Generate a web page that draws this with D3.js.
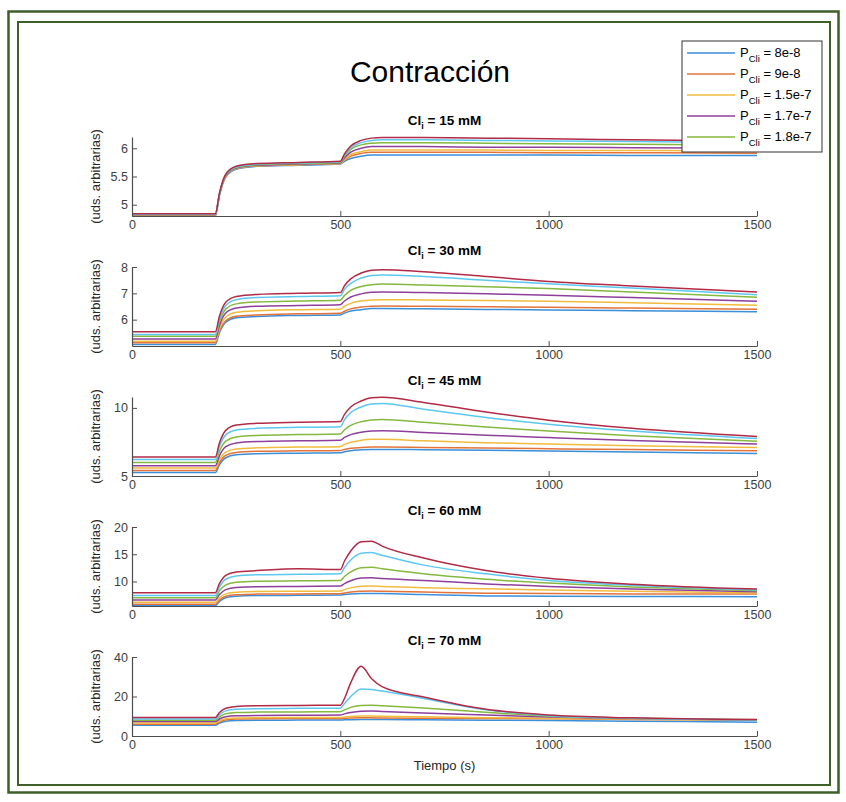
<!DOCTYPE html>
<html>
<head>
<meta charset="utf-8">
<script src="https://cdn.jsdelivr.net/npm/d3@7"></script>
<style>
body { margin: 0; background: #fff; }
text { font-family: "Liberation Sans", Arial, sans-serif; }
</style>
</head>
<body>
<script>
var tiempo = [0, 200, 210, 225, 250, 300, 400, 500, 510, 525, 550, 575, 600, 700, 850, 1000, 1200, 1500];

var concentraciones = ["15", "30", "45", "60", "70"];
var pcli = ["8e-8", "9e-8", "1.5e-7", "1.7e-7", "1.8e-7"];
var yDominios = [[4.8, 6.2], [5, 8], [5, 10.8], [5.5, 20], [0, 40]];
var yTicks = [[5, 5.5, 6], [6, 7, 8], [5, 10], [10, 15, 20], [0, 20, 40]];
var xTicks = [0, 500, 1000, 1500];

// orden: azul, naranja, amarillo, morado, verde, cian, granate
var cl15 = [
  [4.80, 4.80, 5.17, 5.49, 5.63, 5.68, 5.70, 5.72, 5.77, 5.82, 5.86, 5.88, 5.88, 5.88, 5.88, 5.88, 5.87, 5.87],
  [4.81, 4.81, 5.18, 5.50, 5.64, 5.69, 5.71, 5.73, 5.79, 5.86, 5.91, 5.93, 5.93, 5.93, 5.93, 5.92, 5.92, 5.91],
  [4.815, 4.815, 5.18, 5.50, 5.64, 5.69, 5.71, 5.73, 5.80, 5.89, 5.94, 5.97, 5.97, 5.97, 5.97, 5.96, 5.96, 5.95],
  [4.82, 4.82, 5.19, 5.51, 5.65, 5.70, 5.72, 5.74, 5.83, 5.93, 6.00, 6.03, 6.03, 6.03, 6.02, 6.02, 6.01, 6.00],
  [4.825, 4.825, 5.19, 5.52, 5.66, 5.71, 5.73, 5.75, 5.86, 5.98, 6.06, 6.09, 6.10, 6.10, 6.09, 6.08, 6.07, 6.06],
  [4.83, 4.83, 5.20, 5.53, 5.67, 5.72, 5.74, 5.76, 5.88, 6.01, 6.10, 6.14, 6.15, 6.15, 6.14, 6.13, 6.12, 6.10],
  [4.84, 4.84, 5.21, 5.54, 5.68, 5.73, 5.75, 5.77, 5.90, 6.04, 6.14, 6.18, 6.19, 6.19, 6.18, 6.17, 6.15, 6.13]
];
var cl30 = [
  [5.06, 5.06, 5.51, 5.90, 6.07, 6.12, 6.16, 6.18, 6.25, 6.33, 6.38, 6.42, 6.42, 6.41, 6.39, 6.37, 6.34, 6.30],
  [5.12, 5.12, 5.57, 5.96, 6.13, 6.18, 6.22, 6.24, 6.32, 6.41, 6.48, 6.51, 6.52, 6.51, 6.49, 6.47, 6.44, 6.40],
  [5.18, 5.18, 5.67, 6.10, 6.28, 6.34, 6.38, 6.40, 6.51, 6.62, 6.71, 6.75, 6.76, 6.75, 6.73, 6.70, 6.64, 6.55],
  [5.27, 5.27, 5.79, 6.25, 6.44, 6.51, 6.54, 6.57, 6.71, 6.86, 6.98, 7.04, 7.05, 7.03, 6.98, 6.93, 6.84, 6.70],
  [5.37, 5.37, 5.92, 6.40, 6.60, 6.67, 6.71, 6.74, 6.92, 7.11, 7.26, 7.33, 7.35, 7.32, 7.25, 7.18, 7.05, 6.85],
  [5.44, 5.44, 6.03, 6.54, 6.76, 6.84, 6.88, 6.91, 7.15, 7.38, 7.58, 7.68, 7.70, 7.64, 7.50, 7.36, 7.20, 6.95],
  [5.54, 5.54, 6.14, 6.66, 6.88, 6.96, 7.00, 7.03, 7.29, 7.55, 7.77, 7.88, 7.90, 7.82, 7.64, 7.45, 7.28, 7.05]
];
var cl45 = [
  [5.25, 5.25, 5.83, 6.34, 6.56, 6.63, 6.67, 6.70, 6.78, 6.86, 6.92, 6.95, 6.95, 6.93, 6.89, 6.84, 6.77, 6.65],
  [5.40, 5.40, 5.99, 6.51, 6.73, 6.81, 6.85, 6.88, 6.95, 7.03, 7.09, 7.12, 7.12, 7.10, 7.06, 7.00, 6.94, 6.85],
  [5.58, 5.58, 6.21, 6.76, 6.99, 7.07, 7.12, 7.15, 7.32, 7.48, 7.62, 7.69, 7.70, 7.58, 7.45, 7.35, 7.22, 7.10],
  [5.75, 5.75, 6.50, 7.15, 7.43, 7.53, 7.58, 7.62, 7.83, 8.04, 8.22, 8.30, 8.32, 8.20, 8.00, 7.82, 7.60, 7.35],
  [6.00, 6.00, 6.83, 7.56, 7.87, 7.98, 8.04, 8.08, 8.40, 8.72, 8.99, 9.12, 9.15, 8.95, 8.60, 8.30, 7.95, 7.55],
  [6.22, 6.22, 7.18, 8.02, 8.38, 8.50, 8.57, 8.62, 9.13, 9.65, 10.07, 10.28, 10.33, 9.90, 9.30, 8.80, 8.30, 7.75],
  [6.40, 6.40, 7.44, 8.35, 8.74, 8.87, 8.95, 9.00, 9.53, 10.07, 10.51, 10.74, 10.78, 10.40, 9.70, 9.10, 8.50, 7.90]
];
var cl60 = [
  [5.58, 5.58, 6.35, 7.02, 7.31, 7.41, 7.46, 7.50, 7.59, 7.70, 7.79, 7.80, 7.78, 7.60, 7.35, 7.30, 7.25, 7.20],
  [5.82, 5.82, 6.60, 7.28, 7.57, 7.68, 7.72, 7.76, 7.90, 8.07, 8.22, 8.24, 8.20, 8.05, 7.85, 7.80, 7.72, 7.70],
  [6.18, 6.18, 7.00, 7.73, 8.03, 8.15, 8.20, 8.24, 8.51, 8.83, 9.12, 9.15, 9.10, 8.85, 8.65, 8.45, 8.20, 7.90],
  [6.60, 6.60, 7.62, 8.51, 8.90, 9.05, 9.10, 9.15, 9.61, 10.14, 10.62, 10.67, 10.55, 10.20, 9.55, 9.10, 8.60, 8.10],
  [7.03, 7.03, 8.29, 9.39, 9.87, 10.05, 10.12, 10.18, 10.91, 11.75, 12.53, 12.60, 12.35, 11.40, 10.40, 9.70, 9.00, 8.30],
  [7.45, 7.45, 9.03, 10.41, 11.01, 11.24, 11.32, 11.40, 12.57, 13.94, 15.18, 15.30, 14.80, 13.00, 11.40, 10.20, 9.30, 8.45],
  [7.94, 7.94, 9.64, 11.12, 11.76, 12.00, 12.35, 12.18, 13.76, 15.60, 17.30, 17.40, 16.50, 14.30, 12.00, 10.60, 9.50, 8.60]
];
var cl70 = [
  [5.5, 5.5, 6.54, 7.45, 7.84, 7.99, 8.05, 8.1, 8.2, 8.25, 8.3, 8.3, 8.3, 8.2, 8.0, 7.8, 7.5, 7.0],
  [6.0, 6.0, 7.16, 8.18, 8.61, 8.76, 8.84, 8.9, 9.0, 9.1, 9.2, 9.2, 9.1, 9.0, 8.9, 8.7, 8.4, 8.1],
  [6.6, 6.6, 7.72, 8.70, 9.12, 9.26, 9.34, 9.4, 9.6, 9.9, 10.1, 10.1, 10.0, 9.7, 9.3, 9.0, 8.5, 8.0],
  [7.3, 7.3, 8.62, 9.78, 10.27, 10.44, 10.53, 10.6, 11.2, 11.9, 12.5, 12.6, 12.4, 11.6, 10.6, 9.6, 8.8, 8.1],
  [8.0, 8.0, 9.72, 11.23, 11.87, 12.09, 12.21, 12.3, 13.2, 14.5, 15.5, 15.6, 15.3, 14.2, 12.0, 10.0, 9.0, 8.2],
  [8.6, 8.6, 10.8, 12.73, 13.55, 13.83, 13.99, 14.1, 16.5, 20.0, 23.8, 23.5, 22.8, 19.0, 13.3, 10.3, 9.0, 8.2],
  [9.4, 9.4, 11.88, 14.05, 14.98, 15.29, 15.48, 15.6, 19.0, 27.0, 35.3, 29.0, 25.0, 19.7, 13.5, 10.6, 9.2, 8.3]
];
var paneles = [cl15, cl30, cl45, cl60, cl70];

var colores = ["#3a8fd9", "#e3733a", "#f1bb3e", "#8e3f9c", "#85b83f", "#5cc8f2", "#b22a45"];

var W = 846, H = 802,
    left = 132, plotW = 625, plotH = 79,
    tops = [137, 267, 397, 527, 657],
    ejeColor = "#4d4d4d";

var svg = d3.select("body").append("svg")
    .attr("width", W)
    .attr("height", H);

// marcos verdes
svg.append("rect").attr("x", 8.5).attr("y", 11.5).attr("width", 830).attr("height", 781)
    .attr("fill", "#fff").attr("stroke", "#3e5f28").attr("stroke-width", 2.5);
svg.append("rect").attr("x", 18).attr("y", 22).attr("width", 812).attr("height", 763)
    .attr("fill", "none").attr("stroke", "#3e5f28").attr("stroke-width", 2);

svg.append("text")
    .attr("x", 430).attr("y", 82)
    .attr("text-anchor", "middle")
    .style("font-size", "30px")
    .style("fill", "#000")
    .text("Contracción");

var x = d3.scaleLinear().domain([0, 1500]).range([0, plotW]);

paneles.forEach(function(series, p) {
    var y = d3.scaleLinear().domain(yDominios[p]).range([plotH, 0]);
    var g = svg.append("g")
        .attr("transform", "translate(" + left + "," + tops[p] + ")");

    var line = d3.line()
        .x(function(d, i) { return x(tiempo[i]); })
        .y(function(d) { return y(d); })
        .curve(d3.curveMonotoneX);

    g.selectAll(".serie")
        .data(series)
        .enter().append("path")
        .attr("class", "serie")
        .attr("d", line)
        .attr("fill", "none")
        .attr("stroke", function(d, i) { return colores[i]; })
        .attr("stroke-width", 1.5);

    var xAxis = d3.axisBottom(x).tickValues(xTicks).tickFormat(d3.format("d"))
        .tickSizeInner(-5).tickSizeOuter(0).tickPadding(4);
    var yAxis = d3.axisLeft(y).tickValues(yTicks[p]).tickFormat(function(d) { return String(d); })
        .tickSizeInner(-5).tickSizeOuter(0).tickPadding(4);

    var gx = g.append("g").attr("transform", "translate(0," + plotH + ")").call(xAxis);
    var gy = g.append("g").call(yAxis);
    [gx, gy].forEach(function(a) {
        a.select(".domain").attr("stroke", ejeColor).attr("stroke-width", 1.2);
        a.selectAll(".tick line").attr("stroke", ejeColor);
        a.selectAll(".tick text").style("font-size", "12.5px").style("fill", "#404040")
            .style("font-family", "'Liberation Sans', Arial, sans-serif");
    });

    // título del panel
    var t = g.append("text")
        .attr("x", plotW / 2).attr("y", -12)
        .attr("text-anchor", "middle")
        .style("font-size", "13.5px")
        .style("font-weight", "bold")
        .style("fill", "#000");
    t.append("tspan").text("Cl");
    t.append("tspan").attr("dy", 4).style("font-size", "9px").text("i");
    t.append("tspan").attr("dy", -4).text(" = " + concentraciones[p] + " mM");

    g.append("text")
        .attr("transform", "translate(-32," + (plotH / 2) + ") rotate(-90)")
        .attr("text-anchor", "middle")
        .style("font-size", "13px")
        .style("fill", "#262626")
        .text("(uds. arbitrarias)");
});

svg.append("text")
    .attr("x", left + plotW / 2).attr("y", 770)
    .attr("text-anchor", "middle")
    .style("font-size", "13px")
    .style("fill", "#262626")
    .text("Tiempo (s)");

// leyenda
var leg = svg.append("g").attr("transform", "translate(682,41)");
leg.append("rect").attr("width", 140).attr("height", 111)
    .attr("fill", "#fff").attr("stroke", "#333").attr("stroke-width", 1);
pcli.forEach(function(v, i) {
    var yy = 12 + i * 21;
    leg.append("line").attr("x1", 5).attr("x2", 53).attr("y1", yy).attr("y2", yy)
        .attr("stroke", colores[i]).attr("stroke-width", 1.5);
    var tx = leg.append("text").attr("x", 58).attr("y", yy + 4)
        .style("font-size", "13px").style("fill", "#000");
    tx.append("tspan").text("P");
    tx.append("tspan").attr("dy", 5).style("font-size", "9.5px").text("Cli");
    tx.append("tspan").attr("dy", -5).text(" = " + v);
});
</script>
</body>
</html>
